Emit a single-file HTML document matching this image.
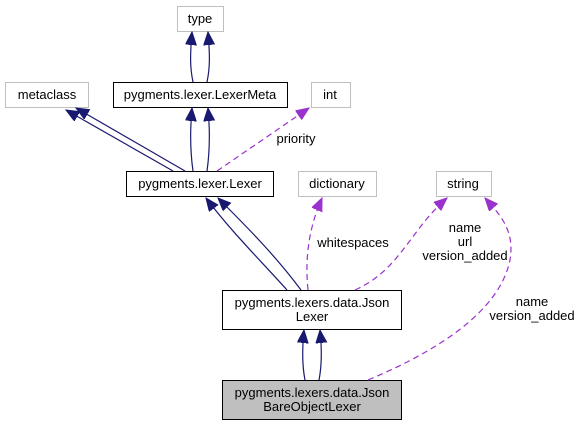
<!DOCTYPE html>
<html><head><meta charset="utf-8"><style>
body{margin:0;background:#fff}
svg text{font-family:"Liberation Sans",Arial,sans-serif;font-size:13px;fill:#000}
</style></head><body>
<svg width="580" height="427" viewBox="0 0 580 427" xmlns="http://www.w3.org/2000/svg">
<defs>
<marker id="b" markerWidth="14" markerHeight="12" refX="13" refY="5.5" orient="auto" markerUnits="userSpaceOnUse"><path d="M0,0 L13,5.5 L0,11 z" fill="#191970" stroke="#191970"/></marker>
<marker id="p" markerWidth="14" markerHeight="12" refX="13" refY="5.5" orient="auto" markerUnits="userSpaceOnUse"><path d="M0,0 L13,5.5 L0,11 z" fill="#9a32cd" stroke="#9a32cd"/></marker>
</defs>
<g fill="#fff" stroke="#bfbfbf">
<rect x="177.5" y="6.5" width="46" height="25"/>
<rect x="5.5" y="82.5" width="83" height="25"/>
<rect x="311.5" y="82.5" width="39" height="25"/>
<rect x="298.5" y="171.5" width="78" height="25"/>
<rect x="436.5" y="171.5" width="55" height="25"/>
</g>
<g stroke="#000" fill="#fff">
<rect x="113.5" y="82.5" width="174" height="25"/>
<rect x="126.5" y="171.5" width="147" height="25"/>
<rect x="222.5" y="290.5" width="179" height="39"/>
<rect x="222.5" y="380.5" width="179" height="39" fill="#bfbfbf"/>
</g>
<g fill="none" stroke="#191970" stroke-width="1.2">
<path d="M193,82 C190,68 190,56 192,32" marker-end="url(#b)"/>
<path d="M207,82 C210,68 210,56 208,32" marker-end="url(#b)"/>
<path d="M193,171 C190,150 190,130 192,108" marker-end="url(#b)"/>
<path d="M207,171 C210,150 210,130 208,108" marker-end="url(#b)"/>
<path d="M173,171 L66,110" marker-end="url(#b)"/>
<path d="M185,171 L76,108" marker-end="url(#b)"/>
<path d="M287,290 C260,260 230,230 206,198" marker-end="url(#b)"/>
<path d="M301,290 C275,255 245,225 218,198" marker-end="url(#b)"/>
<path d="M305,380 C302,365 302,350 304,330" marker-end="url(#b)"/>
<path d="M319,380 C322,365 322,350 320,330" marker-end="url(#b)"/>
</g>
<g fill="none" stroke="#9a32cd" stroke-width="1.2" stroke-dasharray="6,4">
<path d="M217,171 L309,108" marker-end="url(#p)"/>
<path d="M308,290 C305,260 308,230 322,198" marker-end="url(#p)"/>
<path d="M355,290 C400,270 410,230 447,198" marker-end="url(#p)"/>
<path d="M368,380 C440,350 500,310 510,260 C515,230 500,215 485,198" marker-end="url(#p)"/>
</g>
<text x="296" y="143" text-anchor="middle">priority</text>
<text x="353" y="247" text-anchor="middle">whitespaces</text>
<text x="465" y="232" text-anchor="middle">name</text>
<text x="465" y="246" text-anchor="middle">url</text>
<text x="465" y="260" text-anchor="middle">version_added</text>
<text x="532" y="306" text-anchor="middle">name</text>
<text x="532" y="320" text-anchor="middle">version_added</text>
<text x="200" y="23" text-anchor="middle">type</text>
<text x="47" y="99" text-anchor="middle">metaclass</text>
<text x="200" y="99" text-anchor="middle">pygments.lexer.LexerMeta</text>
<text x="330" y="99" text-anchor="middle">int</text>
<text x="200" y="188" text-anchor="middle">pygments.lexer.Lexer</text>
<text x="337" y="188" text-anchor="middle">dictionary</text>
<text x="463" y="188" text-anchor="middle">string</text>
<text x="312" y="307" text-anchor="middle">pygments.lexers.data.Json</text>
<text x="312" y="321" text-anchor="middle">Lexer</text>
<text x="312" y="397" text-anchor="middle">pygments.lexers.data.Json</text>
<text x="312" y="411" text-anchor="middle">BareObjectLexer</text>
</svg>
</body></html>
